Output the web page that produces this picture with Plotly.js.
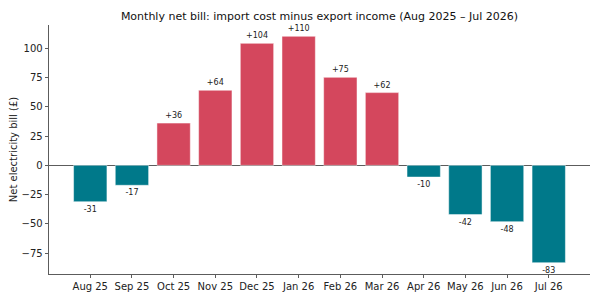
<!DOCTYPE html>
<html>
<head>
<meta charset="utf-8">
<script src="https://cdn.plot.ly/plotly-3.0.1.min.js"></script>
<style>
  html, body { margin: 0; padding: 0; background: #fff; }
  #chart { width: 600px; height: 300px; }
</style>
</head>
<body>
<div id="chart"></div>
<script>
// Months covered by the bill
const months = ['Aug 25', 'Sep 25', 'Oct 25', 'Nov 25', 'Dec 25', 'Jan 26',
                'Feb 26', 'Mar 26', 'Apr 26', 'May 26', 'Jun 26', 'Jul 26'];
// Net bill per month in pounds (import cost minus export income)
const netBill = [-31, -17, 36, 64, 104, 110, 75, 62, -10, -42, -48, -83];
// Y-axis ticks
const yTicks = [-75, -50, -25, 0, 25, 50, 75, 100];

const RED = '#d4475d';
const TEAL = '#00798a';

const xIdx = months.map((_, i) => i);
const colors = netBill.map(v => v >= 0 ? RED : TEAL);
const labels = netBill.map(v => (v > 0 ? '+' : '') + v);

const trace = {
  type: 'bar',
  x: xIdx,
  y: netBill,
  width: 0.8,
  marker: { color: colors, line: { color: 'rgba(255,255,255,0.6)', width: 0.8 } },
  text: labels,
  textposition: 'outside',
  textfont: { family: 'DejaVu Sans', size: 8, color: '#222' },
  cliponaxis: false,
  constraintext: 'none',
  hoverinfo: 'skip'
};

// Padded y-range around the data extremes
const yMin = Math.min(...netBill), yMax = Math.max(...netBill);
const pad = (yMax - yMin) * 0.05;

const layout = {
  width: 600,
  height: 300,
  margin: { l: 49, r: 10, t: 25, b: 26 },
  paper_bgcolor: '#fff',
  plot_bgcolor: '#fff',
  font: { family: 'DejaVu Sans', color: '#222' },
  title: {
    text: 'Monthly net bill: import cost minus export income (Aug 2025 – Jul 2026)',
    font: { family: 'DejaVu Sans', size: 11, color: '#111' },
    xref: 'paper', x: 0.5, xanchor: 'center',
    yref: 'container', y: 0.947, yanchor: 'middle'
  },
  showlegend: false,
  bargap: 0.2,
  xaxis: {
    range: [-0.99, 11.99],
    tickmode: 'array',
    tickvals: xIdx,
    ticktext: months,
    ticks: 'outside',
    ticklen: 3.5,
    tickwidth: 0.8,
    tickcolor: '#333',
    tickfont: { size: 10, color: '#222' },
    showline: true,
    linecolor: '#333',
    linewidth: 0.8,
    showgrid: false,
    zeroline: false,
    fixedrange: true
  },
  yaxis: {
    range: [yMin - pad, yMax + pad],
    tickmode: 'array',
    tickvals: yTicks,
    ticks: 'outside',
    ticklen: 3.5,
    tickwidth: 0.8,
    tickcolor: '#333',
    tickfont: { size: 10, color: '#222' },
    showline: true,
    linecolor: '#333',
    linewidth: 0.8,
    showgrid: false,
    zeroline: true,
    zerolinecolor: '#333',
    zerolinewidth: 0.8,
    title: { text: 'Net electricity bill (£)', font: { size: 10, color: '#222' }, standoff: 1 },
    fixedrange: true
  }
};

Plotly.newPlot('chart', [trace], layout, { displayModeBar: false, staticPlot: true });
</script>
</body>
</html>
